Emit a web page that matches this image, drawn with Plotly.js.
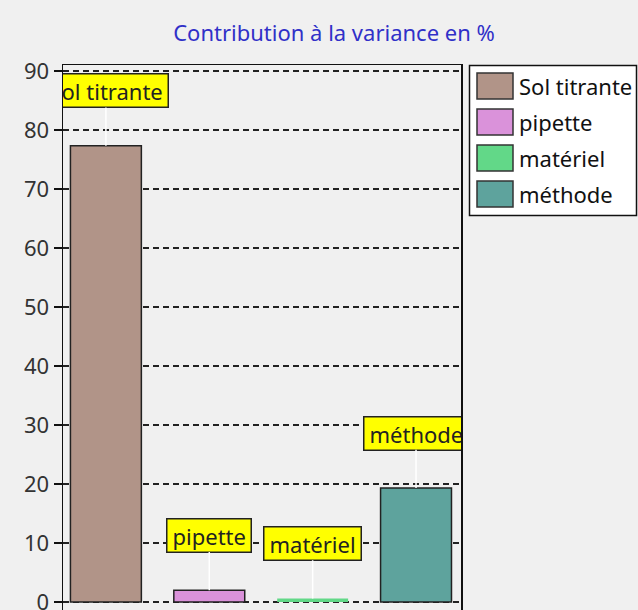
<!DOCTYPE html>
<html><head><meta charset="utf-8">
<script src="https://cdn.plot.ly/plotly-3.0.1.min.js"></script>
<style>html,body{margin:0;padding:0;overflow:hidden;background:#f0f0f0}</style>
</head><body><div id="chart" style="width:638px;height:620px"></div>
<script>
// ---- data ----
const categories = ['Sol titrante', 'pipette', 'matériel', 'méthode'];
const contributions = [77.3, 2.0, 0.6, 19.3];
const yTickValues = [0, 10, 20, 30, 40, 50, 60, 70, 80, 90];
const chartTitle = 'Contribution à la variance en %';

// ---- style ----
const barColors = ['#b19488', '#da92da', '#62d888', '#5ea39d'];
const barLineWidths = [1.5, 1.5, 0, 1.5];
const W = 638, H = 620, M = {l: 63, r: 177, t: 65, b: 5};
const FAMILY = 'Noto Sans, Open Sans, sans-serif';
const FS = 22;
const pw = W - M.l - M.r, ph = H - M.t - M.b;
const px2x = p => (p - M.l) / pw;
const py2y = p => (H - M.b - p) / ph;

const ctx = document.createElement('canvas').getContext('2d');
ctx.font = FS + 'px "Noto Sans"';
const textWidth = t => ctx.measureText(t).width;

const shapes = [];
const annotations = [];

// value labels: yellow boxes linked to the bar top by a white line
categories.forEach((c, i) => {
  annotations.push({xref: 'x', yref: 'y', x: c, y: contributions[i],
    text: c, showarrow: true, arrowhead: 0, arrowwidth: 1.5, arrowcolor: '#ffffff',
    ax: 0, ay: -55, standoff: 0,
    width: textWidth(c) + 8, height: 30, borderpad: 1,
    bgcolor: '#ffff00', bordercolor: '#222', borderwidth: 1.5,
    font: {family: FAMILY, size: FS, color: '#222'}});
});

// custom legend
shapes.push({type: 'rect', xref: 'paper', yref: 'paper',
  x0: px2x(469.5), x1: px2x(636.5), y0: py2y(215.5), y1: py2y(65.5),
  fillcolor: '#ffffff', line: {color: '#111', width: 1.5}, layer: 'above'});
categories.forEach((c, i) => {
  const top = 73 + 36 * i;
  shapes.push({type: 'rect', xref: 'paper', yref: 'paper',
    x0: px2x(477), x1: px2x(513), y0: py2y(top + 26), y1: py2y(top),
    fillcolor: barColors[i], line: {color: '#333', width: 1.5}, layer: 'above'});
  annotations.push({xref: 'paper', yref: 'paper', x: px2x(517), y: py2y(top + 13),
    xanchor: 'left', yanchor: 'middle', showarrow: false, text: c,
    font: {family: FAMILY, size: FS, color: '#111'}});
});

const trace = {
  type: 'bar', x: categories, y: contributions, width: 0.686,
  marker: {color: barColors, line: {color: '#222', width: barLineWidths}},
  showlegend: false, hoverinfo: 'x+y'
};

const layout = {
  width: W, height: H, margin: M,
  paper_bgcolor: '#f0f0f0', plot_bgcolor: '#f0f0f0',
  font: {family: FAMILY, size: FS, color: '#333'},
  title: {text: chartTitle, x: 334 / W, xref: 'container', xanchor: 'center',
    y: (H - 33) / H, yref: 'container', yanchor: 'middle',
    font: {family: FAMILY, size: FS, color: '#3030c8'}},
  showlegend: false,
  xaxis: {type: 'category', range: [-0.415, 3.435], showline: true, mirror: true,
    linecolor: '#111', linewidth: 1.5, showticklabels: false, ticks: '',
    showgrid: false, zeroline: false, fixedrange: true},
  yaxis: {range: [-2.2, 91.0], tickvals: yTickValues, showgrid: true,
    gridcolor: '#222', gridwidth: 1.5, griddash: '6px,4px', zeroline: false,
    showline: true, mirror: true, linecolor: '#111', linewidth: 1.5,
    ticks: 'outside', ticklen: 8, tickwidth: 1.5, tickcolor: '#111',
    tickfont: {family: FAMILY, size: FS, color: '#333'}, fixedrange: true},
  shapes: shapes, annotations: annotations
};

const gd = document.getElementById('chart');
Plotly.newPlot(gd, [trace], layout, {displayModeBar: false, staticPlot: true}).then(() => {
  // clip the value labels to the plot area, as in the original chart
  const ns = 'http://www.w3.org/2000/svg';
  const svgs = gd.querySelectorAll('svg.main-svg');
  const svg = svgs[svgs.length - 1];
  let defs = svg.querySelector('defs');
  if (!defs) { defs = document.createElementNS(ns, 'defs'); svg.insertBefore(defs, svg.firstChild); }
  const cp = document.createElementNS(ns, 'clipPath');
  cp.setAttribute('id', 'labelclip');
  const r = document.createElementNS(ns, 'rect');
  r.setAttribute('x', M.l); r.setAttribute('y', M.t);
  r.setAttribute('width', pw); r.setAttribute('height', ph);
  cp.appendChild(r); defs.appendChild(cp);
  gd.querySelectorAll('g.annotation').forEach(g => {
    if (+g.getAttribute('data-index') < categories.length) g.setAttribute('clip-path', 'url(#labelclip)');
  });
});
</script></body></html>
